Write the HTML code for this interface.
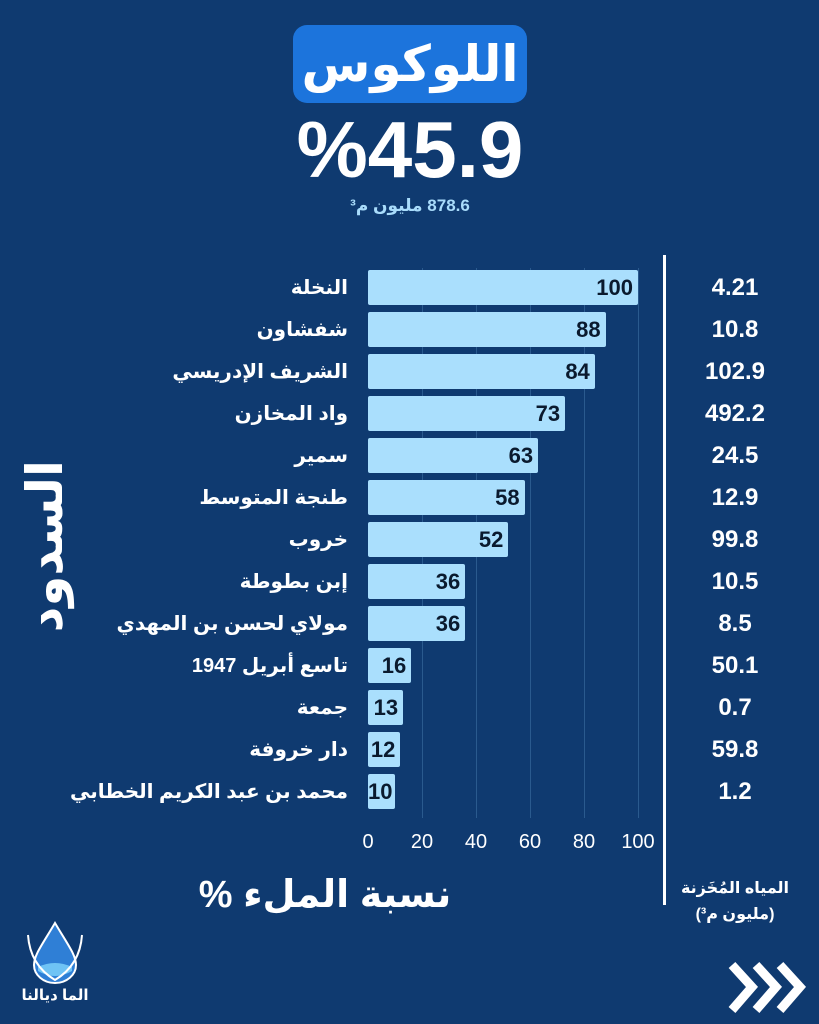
<!DOCTYPE html>
<html><head><meta charset="utf-8"><style>
body{margin:0;width:819px;height:1024px;background:#0f3a70;overflow:hidden;font-family:"Liberation Sans","DejaVu Sans",sans-serif;font-weight:bold;color:#fff;position:relative}
.a{position:absolute}
.bar{position:absolute;left:368px;height:35px;background:#aadffd;border-radius:2px;color:#0a1a2e;font-size:22px;text-align:right;box-sizing:border-box;padding-right:5px;line-height:36px}
.lab{position:absolute;right:471px;width:330px;text-align:right;font-size:20px;direction:rtl;line-height:36px}
.val{position:absolute;left:680px;width:110px;text-align:center;font-size:24px;line-height:36px}
.tick{position:absolute;top:831px;width:40px;margin-left:-20px;text-align:center;font-size:20px;font-weight:normal}
.grid{position:absolute;top:268px;height:550px;width:1px;background:#2a5a8e}
</style></head><body>
<div class="a" style="left:293px;top:25px;width:234px;height:78px;background:#1c74dc;border-radius:14px;text-align:center;line-height:78px;font-size:50px;direction:rtl">اللوكوس</div>
<div class="a" style="left:280px;top:105px;width:260px;text-align:center;font-size:80px;line-height:90px">%45.9</div>
<div class="a" style="left:300px;top:196px;width:220px;text-align:center;font-size:17px;color:#a9dcfb;direction:rtl">878.6 مليون م³</div>
<div class="grid" style="left:422px"></div><div class="grid" style="left:476px"></div><div class="grid" style="left:530px"></div><div class="grid" style="left:584px"></div><div class="grid" style="left:638px"></div>
<div class="a" style="left:663px;top:255px;width:3px;height:650px;background:#fff"></div>
<div id="rows"></div>
<div class="tick" style="left:368px">0</div><div class="tick" style="left:422px">20</div><div class="tick" style="left:476px">40</div><div class="tick" style="left:530px">60</div><div class="tick" style="left:584px">80</div><div class="tick" style="left:638px">100</div>
<div class="a" style="left:175px;top:872px;width:300px;text-align:center;font-size:38px;direction:rtl;white-space:nowrap">نسبة الملء %</div>
<div class="a" style="left:670px;top:876px;width:130px;text-align:center;font-size:16px;direction:rtl;line-height:26px">المياه المُخَزنة<br>(مليون م³)</div>
<div class="a" style="left:-25px;top:500px;width:140px;text-align:center;font-size:50px;line-height:60px;transform:rotate(-90deg);direction:rtl;white-space:nowrap">السدود</div>
<svg class="a" style="left:20px;top:915px" width="70" height="70" viewBox="0 0 70 70"><path d="M35 8 C22 30 14 40 14 50 a21 18 0 0 0 42 0 C56 40 48 30 35 8Z" fill="#2f7fd6" stroke="#fff" stroke-width="2"/><path d="M18 52 q17 -8 34 0 v4 q-17 10 -34 0z" fill="#6fc3f5"/><path d="M8 20 q2 30 27 45 q25 -15 27 -45" fill="none" stroke="#fff" stroke-width="2"/></svg>
<div class="a" style="left:20px;top:986px;width:70px;text-align:center;font-size:15px;direction:rtl">الما ديالنا</div>
<svg class="a" style="left:726px;top:960px" width="82" height="55"><g fill="none" stroke="#fff" stroke-width="9"><path d="M6 5 L26 27 L6 50"/><path d="M30 5 L50 27 L30 50"/><path d="M54 5 L74 27 L54 50"/></g></svg>
<script>
var d=[["النخلة",100,"4.21"],["شفشاون",88,"10.8"],["الشريف الإدريسي",84,"102.9"],["واد المخازن",73,"492.2"],["سمير",63,"24.5"],["طنجة المتوسط",58,"12.9"],["خروب",52,"99.8"],["إبن بطوطة",36,"10.5"],["مولاي لحسن بن المهدي",36,"8.5"],["تاسع أبريل 1947",16,"50.1"],["جمعة",13,"0.7"],["دار خروفة",12,"59.8"],["محمد بن عبد الكريم الخطابي",10,"1.2"]];
var h="";d.forEach(function(r,i){var t=270+42*i;
h+='<div class="bar" style="top:'+t+'px;width:'+Math.max(r[1]*2.7,27)+'px">'+r[1]+'</div>';
h+='<div class="lab" style="top:'+t+'px">'+r[0]+'</div>';
h+='<div class="val" style="top:'+t+'px">'+r[2]+'</div>';});
document.getElementById("rows").innerHTML=h;
</script>
</body></html>
